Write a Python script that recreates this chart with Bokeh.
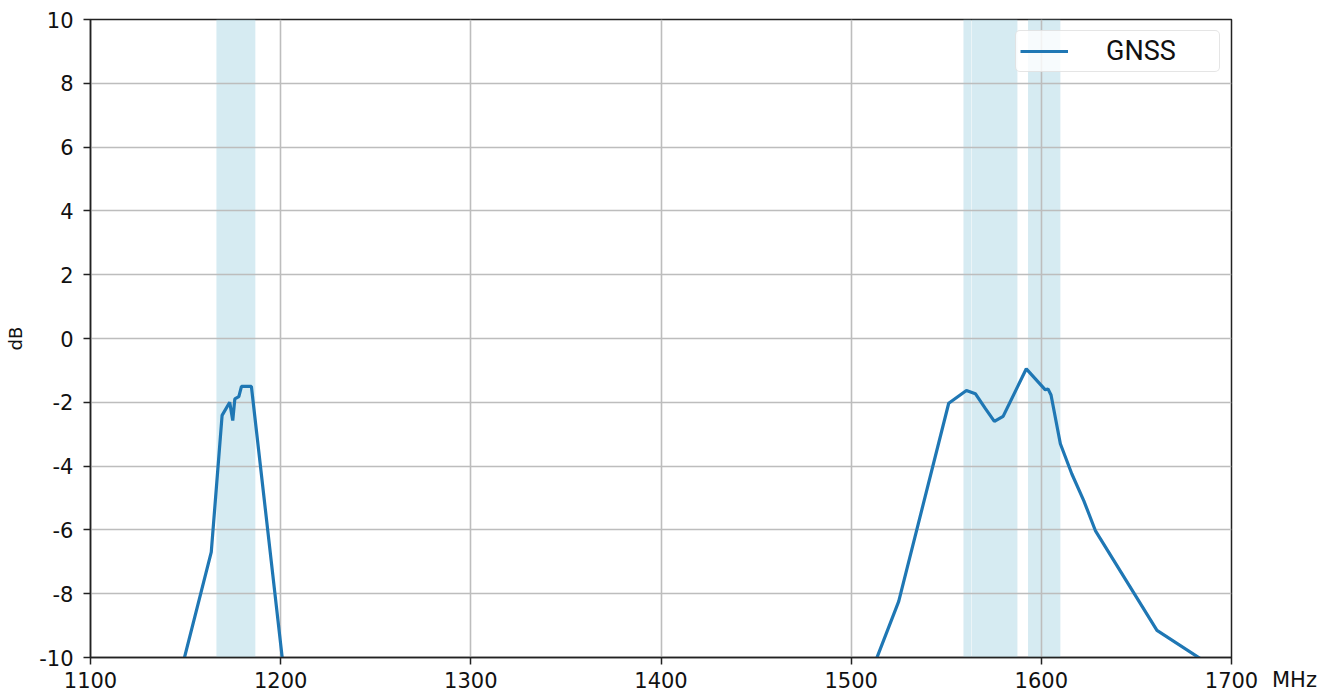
import numpy as np
from bokeh.plotting import figure
from bokeh.layouts import row
from bokeh.models import Range1d, Legend, LegendItem, FixedTicker, Div
from bokeh.embed import file_html
from bokeh.resources import INLINE

# ---- data ----
x_left = [1146.0, 1163.5, 1169.2, 1173.2, 1174.8, 1175.9, 1178.0, 1179.4, 1184.6, 1202.0]
y_left = [-10.8, -6.70, -2.41, -2.00, -2.57, -1.89, -1.82, -1.50, -1.50, -10.63]

x_right = [1510.0, 1525.0, 1551.3, 1560.6, 1565.3, 1570.6, 1575.3, 1579.9, 1592.1,
           1602.1, 1603.5, 1605.1, 1610.0, 1616.0, 1622.3, 1628.4, 1660.8, 1700.0]
y_right = [-10.55, -8.24, -2.03, -1.63, -1.73, -2.20, -2.60, -2.44, -0.95,
           -1.61, -1.58, -1.77, -3.30, -4.24, -5.08, -6.02, -9.15, -10.67]

band_start = [1166.22, 1559.05, 1563.42, 1593.0]
band_end = [1186.68, 1563.15, 1587.42, 1610.0]

x_ticks = [1100, 1200, 1300, 1400, 1500, 1600, 1700]
y_ticks = [-10, -8, -6, -4, -2, 0, 2, 4, 6, 8, 10]
x_min, x_max = 1100, 1700
y_min, y_max = -10, 10

series_name = "GNSS"
x_unit = "MHz"
y_unit = "dB"

# ---- figure ----
p = figure(width=1266, height=696, output_backend="svg", toolbar_location=None,
           x_range=Range1d(x_min, x_max), y_range=Range1d(y_min, y_max),
           min_border_left=90, min_border_top=19, min_border_right=35, min_border_bottom=39)
p.background_fill_color = "white"
p.border_fill_color = "white"
p.outline_line_color = "#222222"
p.outline_line_width = 1.5

# bands (below grid)
p.quad(left=band_start, right=band_end, bottom=[y_min] * len(band_start),
       top=[y_max] * len(band_start), fill_color="lightblue", fill_alpha=0.5,
       line_color=None, level="image")

# curve
xs = x_left + [np.nan] + x_right
ys = y_left + [np.nan] + y_right
r = p.line(xs, ys, line_color="#1f77b4", line_width=3.2)

# axes
for ax in (p.xaxis[0], p.yaxis[0]):
    ax.major_label_text_font = "DejaVu Sans"
    ax.major_label_text_font_size = "21px"
    ax.major_label_text_color = "#111111"
    ax.axis_line_color = "#222222"
    ax.axis_line_width = 1.5
    ax.major_tick_line_color = "#222222"
    ax.major_tick_line_width = 1.5
    ax.major_tick_out = 7
    ax.major_tick_in = 0
    ax.minor_tick_line_color = None
p.xaxis.ticker = FixedTicker(ticks=x_ticks)
p.yaxis.ticker = FixedTicker(ticks=y_ticks)
p.xaxis.major_label_overrides = {t: str(t) for t in x_ticks}
p.yaxis.major_label_overrides = {t: str(t) for t in y_ticks}
p.xaxis.major_label_standoff = 7
p.yaxis.major_label_standoff = 10

p.yaxis.axis_label = y_unit
p.yaxis.axis_label_text_font = "DejaVu Sans"
p.yaxis.axis_label_text_font_style = "normal"
p.yaxis.axis_label_text_font_size = "18px"
p.yaxis.axis_label_text_color = "#111111"
p.yaxis.axis_label_standoff = 10

# grid
p.xgrid.grid_line_color = "#bdbdbd"
p.ygrid.grid_line_color = "#bdbdbd"
p.xgrid.grid_line_width = 1.6
p.ygrid.grid_line_width = 1.6
p.xgrid.ticker = FixedTicker(ticks=x_ticks)
p.ygrid.ticker = FixedTicker(ticks=y_ticks)

# legend
legend = Legend(items=[LegendItem(label=series_name, renderers=[r])],
                location="top_right", margin=11, padding=4,
                glyph_width=48, glyph_height=30, label_standoff=38, label_width=109,
                label_text_font="Roboto", label_text_font_size="27px",
                label_text_color="#111111",
                border_line_color="#cccccc", border_line_width=1.5,
                border_radius=5, background_fill_color="white",
                background_fill_alpha=0.8)
p.add_layout(legend)

# unit label to the right of the x axis, on the tick-label row
unit_div = Div(text=('<div style="position:absolute; left:1px; top:663px; '
                     'font-family:\'DejaVu Sans\'; font-size:21px; color:#111111; '
                     'white-space:nowrap; line-height:24px;">' + x_unit + '</div>'),
               width=56, height=696)

layout = row(p, unit_div)
open("out.html", "w").write(file_html(layout, INLINE))
